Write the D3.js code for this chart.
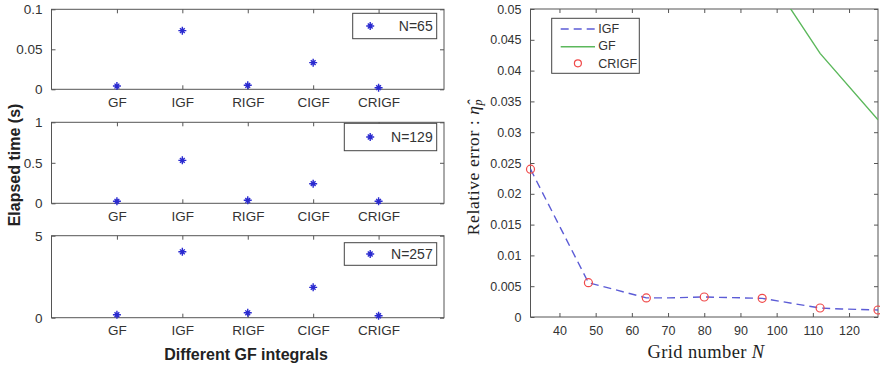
<!DOCTYPE html>
<html>
<head>
<meta charset="utf-8">
<script src="https://cdn.jsdelivr.net/npm/d3@7"></script>
<style>
  body { margin: 0; background: #fff; }
  svg text { font-family: "Liberation Sans", Arial, sans-serif; }
</style>
</head>
<body>
<div id="canvas"></div>
<script>
// data
const methods = ["GF", "IGF", "RIGF", "CIGF", "CRIGF"];
const panelNames = ["N=65", "N=129", "N=257"];
const timeN65 = [0.0041, 0.0733, 0.0050, 0.0333, 0.0020];
const timeN129 = [0.025, 0.53, 0.037, 0.242, 0.025];
const timeN257 = [0.18, 4.02, 0.30, 1.85, 0.12];
const yTicksN65 = [0, 0.05, 0.1];
const yTicksN129 = [0, 0.5, 1];
const yTicksN257 = [0, 5];

const igfN = [32, 48, 64, 70, 80, 96, 112, 118, 128];
const igfErr = [0.0240, 0.00557, 0.0031, 0.0031, 0.00325, 0.00303, 0.00146, 0.0013, 0.00114];
const gfN = [96, 112, 128];
const gfErr = [0.057, 0.0428, 0.032];
const crigfN = [32, 48, 64, 80, 96, 112, 128];
const crigfErr = [0.0240, 0.00557, 0.0031, 0.00325, 0.00303, 0.00146, 0.00114];
const errTicks = [0, 0.005, 0.01, 0.015, 0.02, 0.025, 0.03, 0.035, 0.04, 0.045, 0.05];
const gridTicks = [40, 50, 60, 70, 80, 90, 100, 110, 120];

const W = 880, H = 366;
const axisColor = "#555";
const textColor = "#333";

const svg = d3.select("#canvas").append("svg")
  .attr("width", W)
  .attr("height", H);

// ---------- left: three small panels ----------
const xCat = d3.scaleLinear().domain([0, 6]).range([51.5, 444]);

const panels = [
  { vals: timeN65, ticks: yTicksN65, max: 0.1, top: 9.3, bottom: 89.3, leg: [352.7, 13.3, 84, 25.4] },
  { vals: timeN129, ticks: yTicksN129, max: 1, top: 122.3, bottom: 203.3, leg: [344.3, 123.3, 92.4, 27.4] },
  { vals: timeN257, ticks: yTicksN257, max: 5, top: 235.7, bottom: 317.7, leg: [344.3, 242.7, 92.4, 22.6] }
];

const star = "M-4,0H4M0,-4V4M-2.4,-2.4L2.4,2.4M-2.4,2.4L2.4,-2.4";

panels.forEach((p, k) => {
  const y = d3.scaleLinear().domain([0, p.max]).range([p.bottom, p.top]);
  const g = svg.append("g");

  g.append("rect")
    .attr("x", xCat(0)).attr("y", p.top)
    .attr("width", xCat(6) - xCat(0)).attr("height", p.bottom - p.top)
    .attr("fill", "none").attr("stroke", axisColor).attr("stroke-width", 1);

  // bottom axis with labels
  const bx = g.append("g")
    .attr("transform", `translate(0,${p.bottom})`)
    .call(d3.axisBottom(xCat).tickValues([1, 2, 3, 4, 5])
      .tickFormat(i => methods[i - 1]).tickSizeInner(-4).tickSizeOuter(0).tickPadding(8));
  // top ticks
  const tx = g.append("g")
    .attr("transform", `translate(0,${p.top})`)
    .call(d3.axisTop(xCat).tickValues([1, 2, 3, 4, 5]).tickFormat("").tickSizeInner(-4).tickSizeOuter(0));
  // left axis
  const ly = g.append("g")
    .attr("transform", `translate(${xCat(0)},0)`)
    .call(d3.axisLeft(y).tickValues(p.ticks).tickFormat(d3.format("")).tickSizeInner(-4).tickSizeOuter(0).tickPadding(9));
  const ry = g.append("g")
    .attr("transform", `translate(${xCat(6)},0)`)
    .call(d3.axisRight(y).tickValues(p.ticks).tickFormat("").tickSizeInner(-4).tickSizeOuter(0));

  [bx, tx, ly, ry].forEach(a => {
    a.select(".domain").remove();
    a.selectAll("line").attr("stroke", axisColor);
    a.selectAll("text").attr("fill", textColor).style("font-size", "13.5px");
  });

  g.selectAll(".star")
    .data(p.vals)
    .enter().append("path")
    .attr("class", "star")
    .attr("d", star)
    .attr("transform", (d, i) => `translate(${xCat(i + 1)},${y(d)})`)
    .attr("stroke", "#2a2ad0")
    .attr("stroke-width", 1.4)
    .attr("fill", "none");

  // legend
  const [lx, lyy, lw, lh] = p.leg;
  g.append("rect")
    .attr("x", lx).attr("y", lyy).attr("width", lw).attr("height", lh)
    .attr("fill", "#fff").attr("stroke", "#444").attr("stroke-width", 1);
  g.append("path")
    .attr("d", star)
    .attr("transform", `translate(${lx + lw - 66.5},${lyy + lh / 2})`)
    .attr("stroke", "#2a2ad0").attr("stroke-width", 1.4);
  g.append("text")
    .attr("x", lx + lw - 4)
    .attr("y", lyy + lh / 2 + 5)
    .attr("text-anchor", "end")
    .attr("fill", textColor)
    .style("font-size", "14px")
    .text(panelNames[k]);
});

svg.append("text")
  .attr("transform", "translate(20,165) rotate(-90)")
  .attr("text-anchor", "middle")
  .attr("fill", "#222")
  .style("font-size", "16px")
  .style("font-weight", "bold")
  .text("Elapsed time (s)");

svg.append("text")
  .attr("x", 246)
  .attr("y", 360)
  .attr("text-anchor", "middle")
  .attr("fill", "#222")
  .style("font-size", "16px")
  .style("font-weight", "bold")
  .text("Different GF integrals");

// ---------- right: relative error ----------
const x = d3.scaleLinear().domain([32, 128]).range([530.5, 878]);
const y = d3.scaleLinear().domain([0, 0.05]).range([317, 9]);

const rg = svg.append("g");

rg.append("clipPath").attr("id", "clip")
  .append("rect")
  .attr("x", x(32)).attr("y", y(0.05))
  .attr("width", x(128) - x(32)).attr("height", y(0) - y(0.05));

const bxa = rg.append("g")
  .attr("transform", `translate(0,${y(0)})`)
  .call(d3.axisBottom(x).tickValues(gridTicks).tickSizeInner(-4).tickSizeOuter(0).tickPadding(9));
const txa = rg.append("g")
  .attr("transform", `translate(0,${y(0.05)})`)
  .call(d3.axisTop(x).tickValues(gridTicks).tickFormat("").tickSizeInner(-4).tickSizeOuter(0));
const lya = rg.append("g")
  .attr("transform", `translate(${x(32)},0)`)
  .call(d3.axisLeft(y).tickValues(errTicks).tickFormat(d3.format("")).tickSizeInner(-4).tickSizeOuter(0).tickPadding(9));
const rya = rg.append("g")
  .attr("transform", `translate(${x(128)},0)`)
  .call(d3.axisRight(y).tickValues(errTicks).tickFormat("").tickSizeInner(-4).tickSizeOuter(0));

[bxa, txa, lya, rya].forEach(a => {
  a.select(".domain").remove();
  a.selectAll("line").attr("stroke", axisColor);
  a.selectAll("text").attr("fill", textColor).style("font-size", "12.5px");
});

rg.append("rect")
  .attr("x", x(32)).attr("y", y(0.05))
  .attr("width", x(128) - x(32)).attr("height", y(0) - y(0.05))
  .attr("fill", "none").attr("stroke", axisColor).attr("stroke-width", 1);

const plot = rg.append("g").attr("clip-path", "url(#clip)");

const igfData = igfN.map((n, i) => ({ n, v: igfErr[i] }));
const gfData = gfN.map((n, i) => ({ n, v: gfErr[i] }));
const crigfData = crigfN.map((n, i) => ({ n, v: crigfErr[i] }));

const line = d3.line().x(d => x(d.n)).y(d => y(d.v));

plot.append("path")
  .datum(igfData)
  .attr("d", line)
  .attr("fill", "none")
  .attr("stroke", "#5c5cd6")
  .attr("stroke-width", 1.4)
  .attr("stroke-dasharray", "8,5");

plot.append("path")
  .datum(gfData)
  .attr("d", line)
  .attr("fill", "none")
  .attr("stroke", "#5cb85c")
  .attr("stroke-width", 1.4);

// circles drawn without clipping so the edge markers show fully
rg.selectAll(".crigf")
  .data(crigfData)
  .enter().append("circle")
  .attr("class", "crigf")
  .attr("cx", d => x(d.n))
  .attr("cy", d => y(d.v))
  .attr("r", 4)
  .attr("fill", "none")
  .attr("stroke", "#f04a4a")
  .attr("stroke-width", 1.2);

// legend
const lg = rg.append("g").attr("transform", "translate(551.7,18.3)");
lg.append("rect")
  .attr("width", 87.6).attr("height", 55)
  .attr("fill", "#fff").attr("stroke", "#444").attr("stroke-width", 1);
lg.append("line")
  .attr("x1", 9).attr("x2", 43.3).attr("y1", 10.7).attr("y2", 10.7)
  .attr("stroke", "#5c5cd6").attr("stroke-width", 1.4).attr("stroke-dasharray", "8,5");
lg.append("line")
  .attr("x1", 9).attr("x2", 43.3).attr("y1", 28.4).attr("y2", 28.4)
  .attr("stroke", "#5cb85c").attr("stroke-width", 1.4);
lg.append("circle")
  .attr("cx", 26.2).attr("cy", 45).attr("r", 3.5)
  .attr("fill", "none").attr("stroke", "#f04a4a").attr("stroke-width", 1.2);
["IGF", "GF", "CRIGF"].forEach((t, i) => {
  lg.append("text")
    .attr("x", 46.5)
    .attr("y", 15 + i * 17.2)
    .attr("fill", textColor)
    .style("font-size", "12.5px")
    .text(t);
});

// axis titles in serif
const yl = svg.append("text")
  .attr("transform", "translate(479,167) rotate(-90)")
  .attr("text-anchor", "middle")
  .attr("fill", "#222")
  .style("font-family", "'Liberation Serif', 'DejaVu Serif', serif")
  .style("font-size", "17.5px")
  .style("letter-spacing", "0.6px");
yl.append("tspan").text("Relative error : ");
yl.append("tspan").style("font-style", "italic").text("\u03B7\u0302");
yl.append("tspan").style("font-style", "italic").style("font-size", "12px").attr("dy", 3).text("p");

const xl = svg.append("text")
  .attr("x", 706)
  .attr("y", 358)
  .attr("text-anchor", "middle")
  .attr("fill", "#222")
  .style("font-family", "'Liberation Serif', 'DejaVu Serif', serif")
  .style("font-size", "18.5px")
  .style("letter-spacing", "0.4px");
xl.append("tspan").text("Grid number ");
xl.append("tspan").style("font-style", "italic").text("N");
</script>
</body>
</html>
